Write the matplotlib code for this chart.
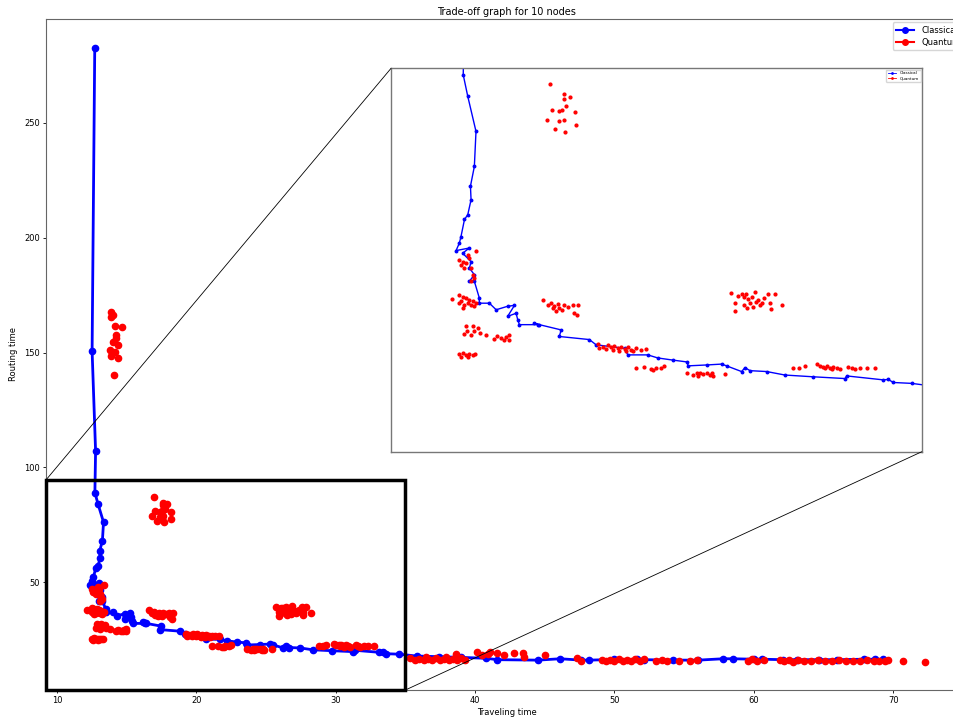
import matplotlib.pyplot as plt
from matplotlib.patches import Rectangle, ConnectionPatch
from matplotlib.lines import Line2D

# classical trade-off curve (traveling time, routing time)
classical_x = [12.70, 12.51, 12.76, 12.71, 12.93, 13.33, 13.25, 13.06, 13.09, 12.93,
               12.77, 12.60, 12.52, 12.36, 13.01, 12.68, 13.09, 13.01, 13.25, 13.01,
               13.25, 13.49, 13.49, 13.98, 14.31, 14.87, 15.20, 14.87, 15.28, 15.36,
               15.44, 16.33, 16.17, 16.41, 17.47, 17.38, 18.84, 19.17, 20.55, 20.71,
               21.68, 22.17, 22.92, 23.57, 23.65, 24.54, 25.27, 25.51, 26.24, 26.41,
               26.65, 27.46, 28.35, 29.73, 31.27, 31.35, 33.13, 33.37, 33.62, 34.51,
               35.8, 37.4, 39.0, 40.8, 41.6, 44.5, 46.1, 47.6, 48.2, 50.0,
               51.6, 52.1, 54.2, 56.0, 57.8, 58.5, 60.0, 60.6, 62.1, 63.1,
               64.7, 66.0, 67.9, 68.7, 69.3]
classical_y = [282.6, 150.6, 107.1, 89.0, 84.1, 76.1, 68.1, 63.6, 60.5, 57.1,
               56.0, 52.1, 50.6, 48.9, 49.5, 48.3, 46.4, 44.9, 43.4, 41.9,
               41.9, 38.1, 36.9, 36.9, 35.4, 36.2, 36.4, 33.9, 34.6, 33.1,
               32.0, 32.0, 32.4, 32.0, 30.8, 29.3, 28.6, 27.4, 26.6, 25.1,
               25.1, 24.4, 23.9, 23.5, 22.6, 22.8, 23.0, 22.6, 21.3, 22.2,
               21.5, 21.3, 20.5, 20.1, 19.7, 20.3, 19.4, 19.5, 18.8, 18.6,
               17.8, 17.5, 17.2, 16.8, 16.2, 16.0, 16.6, 16.0, 16.0, 16.3,
               16.3, 16.2, 16.0, 16.0, 16.6, 16.6, 16.4, 16.4, 16.2, 16.2,
               16.2, 16.2, 16.4, 16.4, 16.3]

# quantum runs
quantum_x = [
    # high routing time group
    13.90, 14.02, 13.85, 14.14, 14.69, 14.21, 14.26, 14.02, 14.38, 13.78,
    14.14, 13.97, 13.90, 14.38, 14.09,
    # around 80
    16.95, 17.60, 17.63, 17.92, 17.03, 17.35, 17.50, 17.71, 18.15, 17.38,
    17.60, 16.78, 17.17, 17.66, 18.20,
    # knee
    12.52, 12.68, 12.85, 12.60, 13.01, 13.09, 13.17, 13.25, 13.33, 12.93,
    12.77, 13.09,
    12.15, 12.52, 12.68, 12.85, 12.60, 12.93, 13.09, 13.25, 12.77, 13.01,
    13.17, 12.52, 12.68, 13.33,
    12.85, 12.90, 13.17, 13.22, 13.45, 13.54, 13.82, 12.77, 13.09,
    14.19, 14.35, 14.55, 14.79, 14.95, 14.95, 14.71,
    12.52, 12.68, 12.85, 13.01, 13.17, 13.28, 12.60, 12.93,
    16.57, 16.82, 16.98, 17.14, 17.30, 17.38, 17.50, 17.63, 17.79, 18.03,
    18.08, 18.24, 18.31, 17.22, 17.06,
    19.25, 19.49, 19.73, 19.90, 20.06, 20.22, 20.38, 20.55, 20.71, 20.87,
    21.11, 21.36, 21.60, 19.33, 19.65, 19.98, 20.30, 20.63, 20.95,
    21.11, 21.52, 21.84, 22.08, 22.30, 22.45, 21.95,
    23.60, 23.89, 24.06, 24.22, 24.38, 24.54, 24.70, 24.78, 24.87, 25.43,
    24.14,
    # group near 27
    25.71, 26.08, 26.24, 26.36, 26.45, 26.57, 26.65, 26.73, 26.89, 26.94,
    27.05, 27.22, 27.33, 27.54, 27.62, 27.65, 27.86, 28.19, 25.92, 25.92,
    26.36, 26.49, 26.81, 27.13,
    28.76, 29.05, 29.32, 29.89, 30.05, 30.21, 30.38, 30.54, 30.70, 30.86,
    31.02, 31.43, 31.59, 31.75, 31.99, 32.32, 32.73, 30.30, 30.62,
    # long tail
    35.3, 35.7, 36.0, 36.3, 36.6, 36.9, 37.2, 37.5, 37.8, 38.1,
    38.4, 38.7, 39.0, 39.3, 36.5, 37.9, 38.6, 40.1, 40.5, 40.9,
    41.1, 41.6, 42.1, 42.8, 43.4, 43.5, 45.0, 47.3, 47.6, 49.1,
    49.4, 49.7, 50.0, 50.3, 50.6, 50.9, 51.2, 51.5, 51.8, 52.1,
    53.0, 53.4, 53.8, 54.6, 55.4, 55.9, 59.6, 59.9, 60.2, 60.7,
    61.9, 62.2, 62.5, 62.8, 63.2, 63.6, 64.1, 64.6, 65.1, 65.6,
    66.1, 66.6, 67.1, 67.6, 68.1, 68.6, 69.0, 69.4, 69.6, 70.7,
    72.3]
quantum_y = [
    167.8, 166.3, 165.6, 161.6, 161.0, 156.2, 157.7, 154.8, 153.3, 151.2,
    150.4, 149.7, 148.3, 147.6, 140.3,
    87.0, 84.6, 83.6, 83.9, 81.1, 80.7, 81.1, 81.8, 80.5, 78.4,
    78.8, 78.6, 76.7, 76.0, 77.5,
    46.8, 46.4, 46.1, 45.7, 47.2, 44.9, 43.4, 42.6, 48.7, 48.0,
    44.9, 41.9,
    37.9, 38.8, 38.4, 38.1, 37.3, 36.9, 36.5, 36.2, 36.4, 37.7,
    37.3, 36.9, 35.9, 36.9,
    31.6, 30.5, 31.8, 30.5, 31.2, 30.1, 29.7, 29.8, 29.7,
    28.8, 29.3, 28.9, 29.1, 29.7, 28.6, 28.6,
    25.3, 25.5, 25.0, 25.3, 25.0, 25.3, 24.7, 24.7,
    37.7, 36.4, 36.9, 36.2, 36.7, 35.8, 35.4, 36.4, 36.0, 36.4,
    34.6, 34.1, 36.4, 35.2, 35.8,
    27.6, 27.0, 27.4, 26.8, 27.2, 26.6, 27.0, 26.5, 26.8, 26.3,
    26.6, 26.3, 26.5, 26.6, 26.5, 26.3, 26.1, 25.9, 25.9,
    22.1, 22.3, 21.9, 22.2, 22.1, 22.5, 21.7,
    21.0, 20.5, 20.9, 21.0, 20.7, 20.9, 20.5, 21.0, 20.3, 20.7,
    20.3,
    39.3, 38.5, 38.9, 38.4, 39.1, 37.8, 36.9, 38.2, 39.5, 37.2,
    37.6, 36.9, 38.0, 39.1, 37.0, 35.5, 39.1, 36.5, 36.9, 35.2,
    36.5, 35.7, 36.1, 36.5,
    22.2, 22.2, 22.5, 23.0, 22.5, 22.4, 22.5, 22.2, 22.4, 22.0,
    21.8, 22.4, 22.0, 21.8, 22.2, 22.2, 22.2, 22.0, 21.8,
    16.8, 16.2, 16.6, 16.0, 16.6, 16.2, 16.8, 16.0, 16.5, 15.9,
    16.6, 16.2, 16.8, 16.0, 17.3, 17.2, 18.8, 19.4, 18.2, 18.8,
    19.6, 19.2, 18.4, 19.0, 19.1, 17.5, 18.1, 16.8, 15.6, 16.0,
    15.6, 16.2, 15.8, 16.4, 15.7, 16.1, 15.6, 16.3, 15.8, 16.4,
    15.6, 15.9, 15.5, 15.8, 15.6, 15.9, 15.8, 16.4, 15.6, 16.0,
    16.2, 15.6, 16.0, 15.4, 16.0, 15.8, 15.6, 16.0, 15.8, 15.6,
    16.0, 15.6, 15.8, 15.6, 16.0, 15.6, 15.8, 15.5, 15.9, 15.6,
    15.0]

zoom_x = (9.2, 35.0)
zoom_y = (3.0, 90.5)
box_x = (9.2, 35.0)
box_y = (3.0, 94.5)

fig = plt.figure(figsize=(9.54, 7.2), dpi=100)
ax = fig.add_axes([0.0482, 0.0417, 0.9654, 0.9319])

ax.plot(classical_x, classical_y, 'o-', color='blue', lw=2, ms=4.5, label='Classical')
ax.plot(quantum_x, quantum_y, 'o', color='red', ms=4.5, label='Quantum')
ax.set_xlim(9.2, 75.3)
ax.set_ylim(3.0, 295.3)
ax.set_yticks([50, 100, 150, 200, 250])
ax.tick_params(labelsize=6, length=2.5, width=0.6, pad=2)
ax.set_title('Trade-off graph for 10 nodes', fontsize=7, pad=3)
ax.set_xlabel('Traveling time', fontsize=6, labelpad=2)
ax.set_ylabel('Routing time', fontsize=6, labelpad=4)
for s in ax.spines.values():
    s.set_color('#666666')
    s.set_linewidth(0.8)

handles = [Line2D([], [], color='blue', marker='o', lw=1.5, ms=4),
           Line2D([], [], color='red', marker='o', lw=1.5, ms=4)]
ax.legend(handles, ['Classical', 'Quantum'], loc='upper right', fontsize=6,
          handlelength=2.2, labelspacing=0.35, borderaxespad=0.4)

# zoomed view of the lower-left corner
axins = fig.add_axes([0.4099, 0.3726, 0.5563, 0.5325])
axins.plot(classical_x, classical_y, 'o-', color='blue', lw=1, ms=1.8)
axins.plot(quantum_x, quantum_y, 'o', color='red', ms=2)
axins.set_xlim(*zoom_x)
axins.set_ylim(*zoom_y)
axins.set_xticks([])
axins.set_yticks([])
for s in axins.spines.values():
    s.set_color('#777777')
    s.set_linewidth(1)
small = [Line2D([], [], color='blue', marker='o', lw=0.6, ms=1),
         Line2D([], [], color='red', marker='o', lw=0.6, ms=1)]
axins.legend(small, ['Classical', 'Quantum'], loc='upper right', fontsize=3,
             handlelength=2, labelspacing=0.3, borderaxespad=0.3)

rect = Rectangle((box_x[0], box_y[0]), box_x[1] - box_x[0], box_y[1] - box_y[0],
                 fill=False, edgecolor='black', lw=2.5, clip_on=False, zorder=5)
ax.add_patch(rect)
for corner, frac in [((box_x[0], box_y[1]), (0, 1)), ((box_x[1], box_y[0]), (1, 0))]:
    con = ConnectionPatch(xyA=corner, coordsA=ax.transData, xyB=frac,
                          coordsB=axins.transAxes, color='black', lw=0.6)
    fig.add_artist(con)

fig.savefig('out.png', dpi=100)
